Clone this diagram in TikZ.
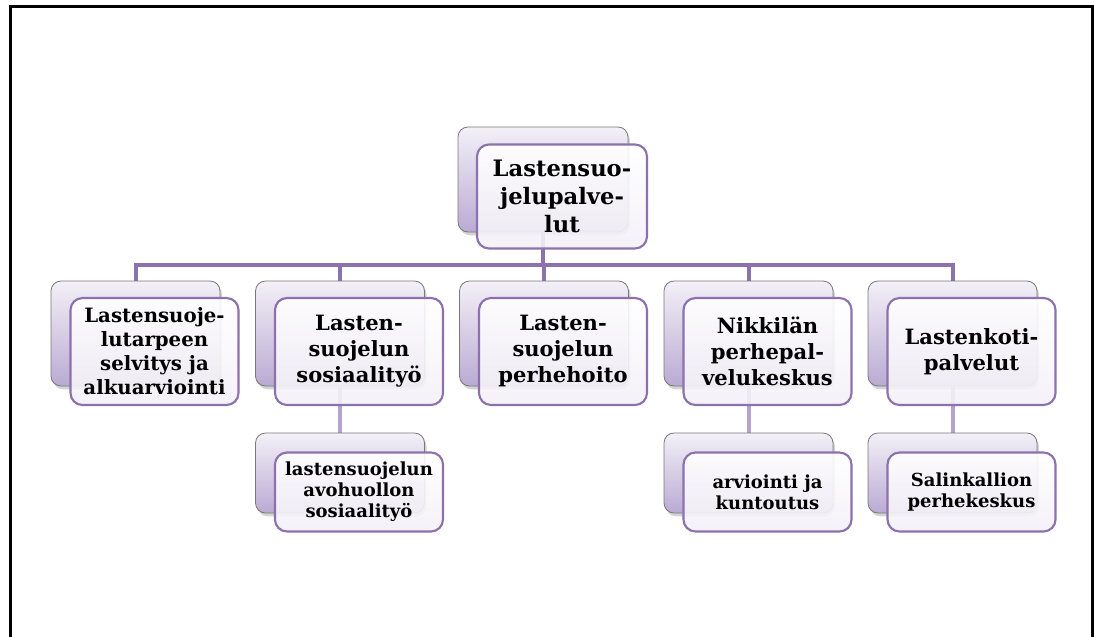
\documentclass[tikz,border=0pt]{standalone}
\usepackage{fontspec}
\setmainfont{DejaVu Serif}
\usetikzlibrary{shadows,backgrounds}

\definecolor{lilacline}{RGB}{140,114,172}
\definecolor{lilacsoft}{RGB}{180,163,204}
\definecolor{lilactop}{RGB}{243,240,247}
\definecolor{lilacbottom}{RGB}{186,170,211}
\definecolor{greyedge}{RGB}{120,120,120}

\tikzset{every picture/.style={line width=0.75pt}}
\tikzset{
  backbox/.style={draw=greyedge, line width=0.6pt, rounded corners=7.5pt,
    top color=lilactop, bottom color=lilacbottom,
    drop shadow={shadow xshift=1.5pt, shadow yshift=-2.5pt, opacity=0.35}},
  frontbox/.style={draw=lilacline, line width=1.6pt, rounded corners=9pt,
    top color=white, bottom color=lilactop, fill opacity=0.9, text opacity=1,
    align=center, font=\bfseries},
  backmain/.style={backbox, minimum width=126.75pt, minimum height=78.75pt},
  frontmain/.style={frontbox, minimum width=126pt, minimum height=80.25pt},
  backsub/.style={backbox, minimum width=126.75pt, minimum height=60pt},
  frontsub/.style={frontbox, minimum width=126pt, minimum height=59.25pt},
  bar/.style={draw=lilacline, line width=3pt},
  subbar/.style={draw=lilacsoft, line width=3pt}
}

\begin{document}
\begin{tikzpicture}[x=0.75pt,y=0.75pt,yscale=-1,xscale=1]
\useasboundingbox (0,0) rectangle (1094,636);

%Frame
\draw[line width=2.25pt] (10,650) -- (10,6) -- (1092,6) -- (1092,650);

%Top box
\node[backbox, minimum width=127.5pt, minimum height=78.75pt] (btop) at (543,179.5) {};
\node[frontbox, minimum width=127.5pt, minimum height=78pt,
  font=\bfseries\fontsize{17}{21}\selectfont] (ftop) at ([shift={(19,17)}]btop) {Lastensuo-\\jelupalve-\\lut};

%Level 1 boxes
\node[backmain] (b1) at (135.5,333.5) {};
\node[frontmain, font=\bfseries\fontsize{14.8}{18}\selectfont] (f1) at ([shift={(19,18)}]b1) {Lastensuoje-\\lutarpeen\\selvitys ja\\alkuarviointi};
\node[backmain] (b2) at (340,333.5) {};
\node[frontmain, font=\bfseries\fontsize{15.8}{19.5}\selectfont] (f2) at ([shift={(19,18)}]b2) {Lasten-\\suojelun\\sosiaalityö};
\node[backmain] (b3) at (544,333.5) {};
\node[frontmain, font=\bfseries\fontsize{15.8}{19.5}\selectfont] (f3) at ([shift={(19,18)}]b3) {Lasten-\\suojelun\\perhehoito};
\node[backmain] (b4) at (748.5,333.5) {};
\node[frontmain, font=\bfseries\fontsize{15.8}{19.5}\selectfont] (f4) at ([shift={(19,18)}]b4) {Nikkilän\\perhepal-\\velukeskus};
\node[backmain] (b5) at (952.5,333.5) {};
\node[frontmain, font=\bfseries\fontsize{15.8}{19.5}\selectfont] (f5) at ([shift={(19,18)}]b5) {Lastenkoti-\\palvelut};

%Level 2 boxes
\node[backsub] (c2) at (340,473) {};
\node[frontsub, font=\bfseries\fontsize{13.5}{15.75}\selectfont] (g2) at ([shift={(19,19)}]c2) {lastensuojelun\\avohuollon\\sosiaalityö};
\node[backsub] (c4) at (748.5,473) {};
\node[frontsub, font=\bfseries\fontsize{13.5}{15.75}\selectfont] (g4) at ([shift={(19,19)}]c4) {arviointi ja\\kuntoutus};
\node[backsub] (c5) at (952.5,473) {};
\node[frontsub, font=\bfseries\fontsize{13.5}{15.75}\selectfont] (g5) at ([shift={(19,19)}]c5) {Salinkallion\\perhekeskus};

%Connectors
\begin{scope}[on background layer]
\coordinate (hub) at (543,265);
\draw[bar] (btop.south) -- (hub);
\draw[bar] (hub) -| (b1.north);
\draw[bar] (hub) -| (b2.north);
\draw[bar] (hub) -| (b3.north);
\draw[bar] (hub) -| (b4.north);
\draw[bar] (hub) -| (b5.north);
\end{scope}
\begin{scope}[on background layer]
\draw[subbar] (b2.south) -- (c2.north);
\draw[subbar] (b4.south) -- (c4.north);
\draw[subbar] (b5.south) -- (c5.north);
\end{scope}

\end{tikzpicture}
\end{document}
